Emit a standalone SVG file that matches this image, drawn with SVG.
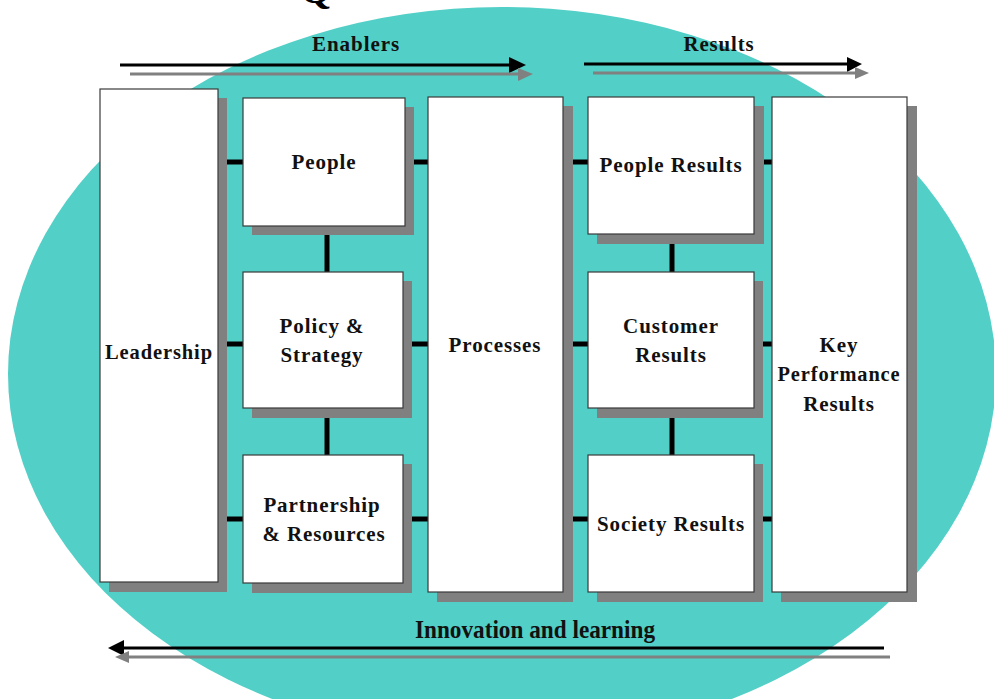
<svg xmlns="http://www.w3.org/2000/svg" width="994" height="699" viewBox="0 0 994 699">
<defs>
<style>
.box{fill:#ffffff;stroke:#3a3a3a;stroke-width:1.2}
.sh{fill:#808080}
.lbl{font-family:"Liberation Serif","Times New Roman",serif;font-weight:bold;font-size:21px;fill:#111;text-anchor:middle;letter-spacing:0.9px}
.con{stroke:#000;stroke-width:5;fill:none}
.ab{stroke:#000;stroke-width:3;fill:none}
.ag{stroke:#808080;stroke-width:3;fill:none}
</style>
</defs>
<rect width="994" height="699" fill="#ffffff"/>
<ellipse cx="502" cy="374" rx="494" ry="367" fill="#52cfc6"/>
<text x="300" y="3" style="font-family:'Liberation Serif',serif;font-weight:bold;font-size:40px;fill:#000">Q</text>

<g id="arrows">
<line class="ab" x1="120" y1="65" x2="512" y2="65"/>
<polygon points="509,57 526,65 509,73" fill="#000"/>
<line class="ag" x1="130" y1="74" x2="520" y2="74"/>
<polygon points="518,68 533,74 518,81" fill="#808080"/>
<line class="ab" x1="584" y1="64" x2="850" y2="64"/>
<polygon points="847,57 862,64 847,72" fill="#000"/>
<line class="ag" x1="593" y1="73" x2="857" y2="73"/>
<polygon points="855,67 869,73 855,79" fill="#808080"/>
<line class="ab" x1="884" y1="648" x2="120" y2="648"/>
<polygon points="124,640 108,648 124,656" fill="#000"/>
<line class="ag" x1="890" y1="657" x2="127" y2="657"/>
<polygon points="129,651 115,657 129,663" fill="#808080"/>
<text class="lbl" x="356" y="51" textLength="88" lengthAdjust="spacingAndGlyphs">Enablers</text>
<text class="lbl" x="719" y="51" textLength="71" lengthAdjust="spacingAndGlyphs">Results</text>
<text class="lbl" x="535" y="638" style="font-size:25px;letter-spacing:0" textLength="240" lengthAdjust="spacingAndGlyphs">Innovation and learning</text>
</g>

<g id="connectors">
<line class="con" x1="227" y1="162" x2="243" y2="162"/>
<line class="con" x1="227" y1="344" x2="243" y2="344"/>
<line class="con" x1="227" y1="519" x2="243" y2="519"/>
<line class="con" x1="414" y1="162" x2="428" y2="162"/>
<line class="con" x1="412" y1="344" x2="428" y2="344"/>
<line class="con" x1="412" y1="519" x2="428" y2="519"/>
<line class="con" x1="572" y1="162" x2="588" y2="162"/>
<line class="con" x1="572" y1="344" x2="588" y2="344"/>
<line class="con" x1="572" y1="519" x2="588" y2="519"/>
<line class="con" x1="763" y1="162" x2="772" y2="162"/>
<line class="con" x1="763" y1="344" x2="772" y2="344"/>
<line class="con" x1="763" y1="519" x2="772" y2="519"/>
<line class="con" x1="327" y1="234" x2="327" y2="272"/>
<line class="con" x1="327" y1="417" x2="327" y2="455"/>
<line class="con" x1="672" y1="243" x2="672" y2="272"/>
<line class="con" x1="672" y1="417" x2="672" y2="455"/>
</g>

<g id="leadership">
<rect class="sh" x="109" y="98" width="118" height="494"/>
<rect class="box" x="100" y="89" width="118" height="493"/>
<text class="lbl" x="159" y="359" textLength="108" lengthAdjust="spacingAndGlyphs">Leadership</text>
</g>
<g id="people">
<rect class="sh" x="252" y="107" width="162" height="128"/>
<rect class="box" x="243" y="98" width="162" height="128"/>
<text class="lbl" x="324" y="169">People</text>
</g>
<g id="policy">
<rect class="sh" x="252" y="281" width="160" height="137"/>
<rect class="box" x="243" y="272" width="160" height="136"/>
<text class="lbl" x="322" y="333">Policy &amp;</text>
<text class="lbl" x="322" y="362">Strategy</text>
</g>
<g id="partnership">
<rect class="sh" x="252" y="464" width="160" height="129"/>
<rect class="box" x="243" y="455" width="160" height="128"/>
<text class="lbl" x="322" y="512">Partnership</text>
<text class="lbl" x="324" y="541">&amp; Resources</text>
</g>
<g id="processes">
<rect class="sh" x="437" y="106" width="136" height="496"/>
<rect class="box" x="428" y="97" width="135" height="495"/>
<text class="lbl" x="495" y="352">Processes</text>
</g>
<g id="people-results">
<rect class="sh" x="597" y="106" width="167" height="138"/>
<rect class="box" x="588" y="97" width="166" height="137"/>
<text class="lbl" x="671" y="172" textLength="143" lengthAdjust="spacingAndGlyphs">People Results</text>
</g>
<g id="customer-results">
<rect class="sh" x="597" y="281" width="166" height="137"/>
<rect class="box" x="588" y="272" width="166" height="136"/>
<text class="lbl" x="671" y="333">Customer</text>
<text class="lbl" x="671" y="362">Results</text>
</g>
<g id="society-results">
<rect class="sh" x="597" y="464" width="166" height="138"/>
<rect class="box" x="588" y="455" width="166" height="137"/>
<text class="lbl" x="671" y="531" textLength="148" lengthAdjust="spacingAndGlyphs">Society Results</text>
</g>
<g id="kpr">
<rect class="sh" x="781" y="106" width="136" height="496"/>
<rect class="box" x="772" y="97" width="135" height="495"/>
<text class="lbl" x="839" y="352">Key</text>
<text class="lbl" x="839" y="381" textLength="123" lengthAdjust="spacingAndGlyphs">Performance</text>
<text class="lbl" x="839" y="411">Results</text>
</g>
</svg>
